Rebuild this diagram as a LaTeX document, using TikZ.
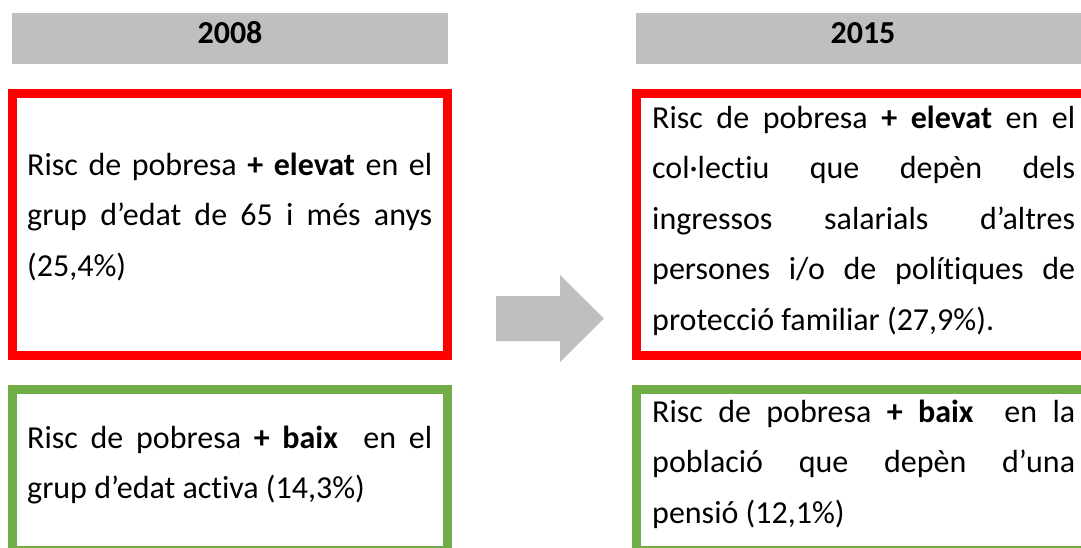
\documentclass[tikz,border=0pt]{standalone}
\usepackage{fontspec}
\setmainfont{Carlito}[Ligatures=NoCommon]
\definecolor{hdrgrey}{HTML}{BFBFBF}
\definecolor{boxred}{HTML}{FF0000}
\definecolor{boxgreen}{HTML}{70AD47}
\newcommand{\normsp}{\spaceskip=0pt\xspaceskip=0pt\relax}
\newcommand{\jl}[2]{\makebox[#1][s]{#2}}
\begin{document}
\begin{tikzpicture}[x=1pt,y=-1pt,
  header/.style={fill=hdrgrey,draw=none},
  yeartext/.style={anchor=base,inner sep=0pt,font=\fontsize{32}{38}\selectfont\bfseries},
  redbox/.style={draw=boxred,line width=9pt},
  greenbox/.style={draw=boxgreen,line width=9pt},
  bodytext/.style={anchor=base west,inner sep=0pt,align=left,font=\fontsize{32}{50.5}\selectfont},
  blockarrow/.style={fill=hdrgrey,draw=none}]
\useasboundingbox (0,0) rectangle (1081,547);
\clip (0,0) rectangle (1081,547);
% headers
\fill[header] (12,13) rectangle (448,64);
\fill[header] (636,13) rectangle (1095,64);
\node[yeartext] (y08) at (230,43.5) {2008};
\node[yeartext] (y15) at (863,43.5) {2015};
% boxes
\draw[redbox] (12.5,93.5) rectangle (447.5,355.5);
\draw[redbox] (636.5,93.5) rectangle (1100,355.5);
\draw[greenbox] (12.5,389.5) rectangle (447.5,550);
\draw[greenbox] (636.5,389.5) rectangle (1100,550);
% arrow
\fill[blockarrow] (496,296) -- (560,296) -- (560,275) -- (604,318.5) -- (560,362) -- (560,341) -- (496,341) -- cycle;
% texts
\node[bodytext,text width=405pt] (t08r) at (27,175) {\normsp
\jl{405pt}{Risc de pobresa \textbf{+ elevat} en el}\\
\jl{405pt}{grup d’edat de 65 i més anys}\\
(25,4\%)};
\node[bodytext,text width=405pt] (t08g) at (27,448) {\normsp
\jl{405pt}{Risc de pobresa \textbf{+ baix}~ en el}\\
grup d’edat activa (14,3\%)};
\node[bodytext,text width=423pt] (t15r) at (652,128) {\normsp
\jl{423pt}{Risc de pobresa \textbf{+ elevat} en el}\\
\jl{423pt}{col·lectiu que depèn dels}\\
\jl{423pt}{ingressos salarials d’altres}\\
\jl{423pt}{persones i/o de polítiques de}\\
protecció familiar (27,9\%).};
\node[bodytext,text width=423pt] (t15g) at (652,422) {\normsp
\jl{423pt}{Risc de pobresa \textbf{+ baix}~ en la}\\
\jl{423pt}{població que depèn d’una}\\
pensió (12,1\%)};
\end{tikzpicture}
\end{document}
